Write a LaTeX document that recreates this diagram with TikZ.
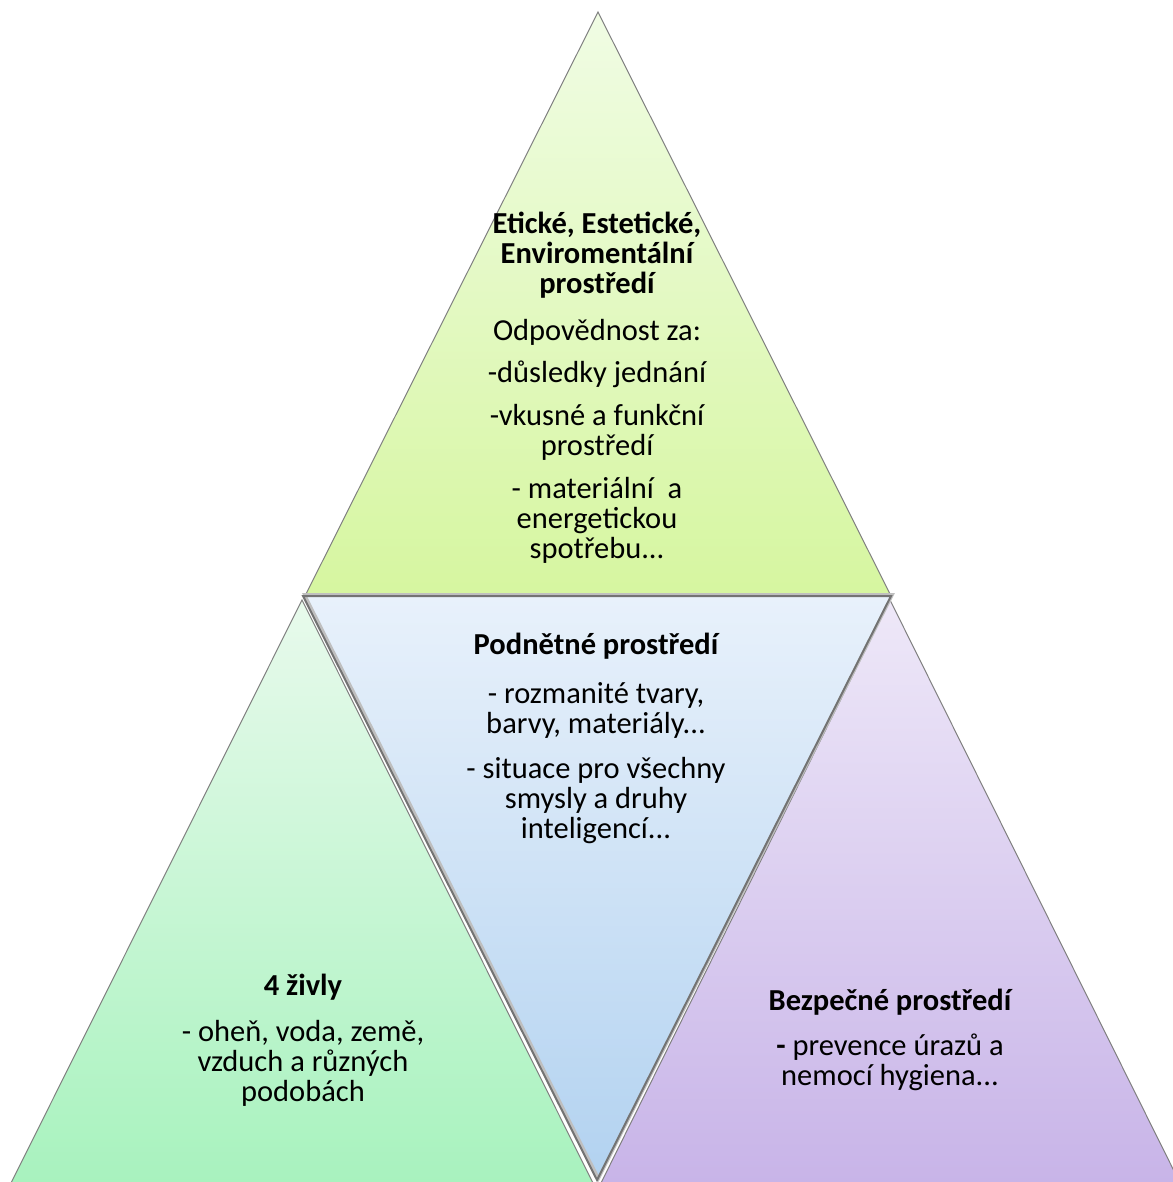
\documentclass[tikz,border=0pt]{standalone}
\usepackage{fontspec}
\setmainfont{Carlito}
\begin{document}
\begin{tikzpicture}[x=1pt,y=-1pt,
  edge/.style={draw=black!50, line width=1pt, line join=miter},
  midedge/.style={draw=black!55, line width=2pt, line join=miter},
  txt/.style={align=center, inner sep=0pt, anchor=base, font=\fontsize{30.5}{30}\selectfont}]
\useasboundingbox (0,0) rectangle (1172,1182);
% top triangle
\coordinate (tA) at (598,12);
\coordinate (tL) at (306,594);
\coordinate (tR) at (890,594);
\shade[top color={rgb,255:red,240;green,252;blue,228}, bottom color={rgb,255:red,214;green,246;blue,160}] (tA) -- (tR) -- (tL) -- cycle;
\draw[edge] (tA) -- (tR) -- (tL) -- cycle;
% bottom-left triangle
\coordinate (lA) at (302,600);
\coordinate (lL) at (11,1183);
\coordinate (lR) at (593,1183);
\shade[top color={rgb,255:red,232;green,250;blue,236}, bottom color={rgb,255:red,168;green,242;blue,190}] (lA) -- (lR) -- (lL) -- cycle;
\draw[edge] (lA) -- (lR) -- (lL) -- cycle;
% bottom-right triangle
\coordinate (rA) at (890,600);
\coordinate (rL) at (601,1183);
\coordinate (rR) at (1180,1183);
\shade[top color={rgb,255:red,238;green,232;blue,248}, bottom color={rgb,255:red,200;green,180;blue,232}] (rA) -- (rR) -- (rL) -- cycle;
\draw[edge] (rA) -- (rR) -- (rL) -- cycle;
% middle inverted triangle
\coordinate (mL) at (303,596);
\coordinate (mR) at (891,596);
\coordinate (mB) at (597,1180);
\shade[top color={rgb,255:red,232;green,241;blue,251}, bottom color={rgb,255:red,178;green,210;blue,240}] (mL) -- (mR) -- (mB) -- cycle;
\draw[draw=black!25, line width=3pt, line join=miter] ([xshift=1.5pt,yshift=1.5pt]mL) -- ([xshift=1.5pt,yshift=1.5pt]mR) -- ([xshift=1.5pt,yshift=1.5pt]mB) -- cycle;
\draw[midedge] (mL) -- (mR) -- (mB) -- cycle;
% texts (anchored at the baseline of the last line)
\node[txt] (ttop) at (597,558) {\bfseries Etické, Estetické,\\\bfseries Enviromentální\\\bfseries prostředí\\[17pt]
Odpovědnost za:\\[12pt]
-důsledky jednání\\[13pt]
-vkusné a funkční\\prostředí\\[13pt]
- materiální\ \ a\\energetickou\\spotřebu...};
\node[txt] (tmid) at (596,838) {\bfseries Podnětné prostředí\\[19pt]
- rozmanité tvary,\\barvy, materiály...\\[15pt]
- situace pro všechny\\smysly a druhy\\inteligencí...};
\node[txt] (tleft) at (303,1101) {\bfseries 4 živly\\[16pt]
- oheň, voda, země,\\vzduch a různých\\podobách};
\node[txt] (tright) at (890,1085) {\bfseries Bezpečné prostředí\\[15pt]
{\bfseries -} prevence úrazů a\\nemocí hygiena...};
\end{tikzpicture}
\end{document}
